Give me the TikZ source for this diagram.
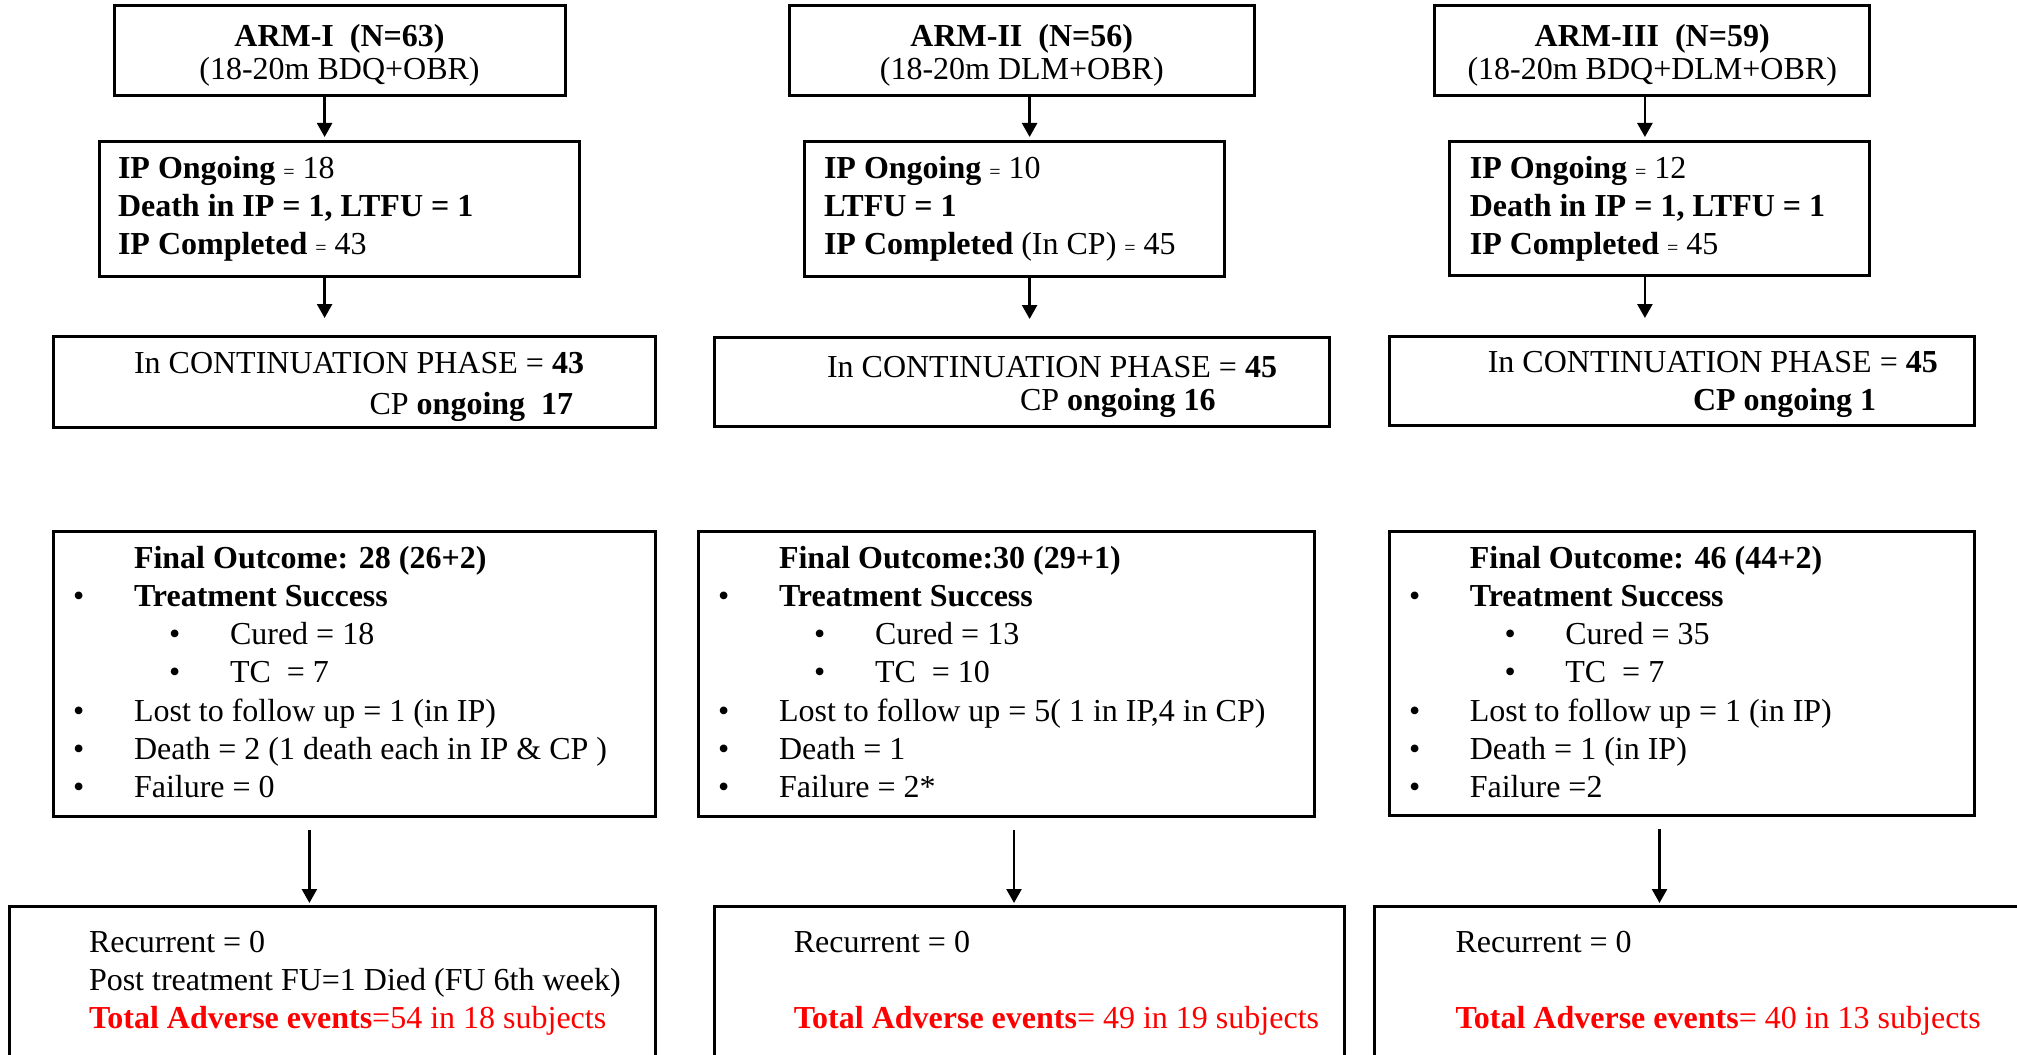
\documentclass[tikz,border=0pt]{standalone}
\usepackage{fontspec}
\setmainfont{Liberation Serif}
\usetikzlibrary{arrows.meta}
\definecolor{aered}{RGB}{255,0,0}
\newcommand\eqsm{{\fontsize{20}{20}\selectfont =}}
\begin{document}
\begin{tikzpicture}[x=1pt,y=-1pt,
  box/.style={draw=black, line width=3pt, inner sep=0pt, outer sep=0pt, rectangle},
  arr/.style={draw=black, line width=2.5pt, -{Triangle[length=14pt,width=15pt]}},
  txt/.style={anchor=base west, inner sep=0pt, outer sep=0pt, font=\fontsize{32}{38}\selectfont},
  ctr/.style={anchor=base, inner sep=0pt, outer sep=0pt, font=\fontsize{32}{38}\selectfont}]
\useasboundingbox (0,0) rectangle (2017,1054);
\clip (0,0) rectangle (2017,1054);
\fill[white] (0,0) rectangle (2017,1054);

% ---------- row 1
\node[box, minimum width=451pt, minimum height=90pt] (A1) at (339.5,51) {};
\node[box, minimum width=465.5pt, minimum height=90pt] (A2) at (1021.75,51) {};
\node[box, minimum width=435.2pt, minimum height=90pt] (A3) at (1652.2,51) {};
\node[ctr] (a1l1) at (339.5,46.5) {\bfseries ARM-I\ \ (N=63)};
\node[ctr] (a1l2) at (339.5,80) {(18-20m BDQ+OBR)};
\node[ctr] (a2l1) at (1021.75,46.5) {\bfseries ARM-II\ \ (N=56)};
\node[ctr] (a2l2) at (1021.75,80) {(18-20m DLM+OBR)};
\node[ctr] (a3l1) at (1652.2,46.5) {\bfseries ARM-III\ \ (N=59)};
\node[ctr] (a3l2) at (1652.2,80) {(18-20m BDQ+DLM+OBR)};

% ---------- row 2
\node[box, minimum width=480.5pt, minimum height=135pt] (B1) at (339.25,208.5) {};
\node[box, minimum width=420.6pt, minimum height=135pt] (B2) at (1014.3,208.5) {};
\node[box, minimum width=420.8pt, minimum height=134pt] (B3) at (1659.4,208) {};
\node[txt] (b1l1) at (118,178) {\textbf{IP Ongoing} \eqsm{} 18};
\node[txt] (b1l2) at (118,216) {\textbf{Death in IP = 1, LTFU = 1}};
\node[txt] (b1l3) at (118,254) {\textbf{IP Completed} \eqsm{} 43};
\node[txt] (b2l1) at (824,178) {\textbf{IP Ongoing} \eqsm{} 10};
\node[txt] (b2l2) at (824,216) {\textbf{LTFU = 1}};
\node[txt] (b2l3) at (824,254) {\textbf{IP Completed} (In CP) \eqsm{} 45};
\node[txt] (b3l1) at (1469.8,178) {\textbf{IP Ongoing} \eqsm{} 12};
\node[txt] (b3l2) at (1469.8,216) {\textbf{Death in IP = 1, LTFU = 1}};
\node[txt] (b3l3) at (1469.8,254) {\textbf{IP Completed} \eqsm{} 45};

% ---------- row 3
\node[box, minimum width=601.4pt, minimum height=91pt] (C1) at (354.3,381.5) {};
\node[box, minimum width=615.6pt, minimum height=89pt] (C2) at (1021.8,381.5) {};
\node[box, minimum width=585.6pt, minimum height=89pt] (C3) at (1681.8,380.5) {};
\node[txt] (c1l1) at (134,373) {In CONTINUATION PHASE = \textbf{43}};
\node[txt] (c1l2) at (369.6,414) {CP \textbf{ongoing\ \ 17}};
\node[txt] (c2l1) at (827,377) {In CONTINUATION PHASE = \textbf{45}};
\node[txt] (c2l2) at (1020,410) {CP \textbf{ongoing 16}};
\node[txt] (c3l1) at (1487.8,372) {In CONTINUATION PHASE = \textbf{45}};
\node[txt] (c3l2) at (1693,410) {\textbf{CP ongoing 1}};

% ---------- row 4
\node[box, minimum width=601.4pt, minimum height=285pt] (D1) at (354.3,673.5) {};
\node[box, minimum width=616pt, minimum height=285pt] (D2) at (1006.8,673.5) {};
\node[box, minimum width=585.6pt, minimum height=284pt] (D3) at (1681.8,673) {};

% arm I
\node[txt] (d1l1) at (134,568) {\textbf{Final Outcome: 28 (26+2)}};
\node[txt] (d1l2) at (134,606.3) {\textbf{Treatment Success}};
\node[txt] (d1l3) at (230,644.6) {Cured = 18};
\node[txt] (d1l4) at (230,682.9) {TC\ \ = 7};
\node[txt] (d1l5) at (134,721.2) {Lost to follow up = 1 (in IP)};
\node[txt] (d1l6) at (134,759.5) {Death = 2 (1 death each in IP \& CP )};
\node[txt] (d1l7) at (134,797.8) {Failure = 0};
\node[txt] (d1b2) at (73,606.3) {•};
\node[txt] (d1b3) at (169,644.6) {•};
\node[txt] (d1b4) at (169,682.9) {•};
\node[txt] (d1b5) at (73,721.2) {•};
\node[txt] (d1b6) at (73,759.5) {•};
\node[txt] (d1b7) at (73,797.8) {•};
% arm II
\node[txt] (d2l1) at (779,568) {\textbf{Final Outcome:30 (29+1)}};
\node[txt] (d2l2) at (779,606.3) {\textbf{Treatment Success}};
\node[txt] (d2l3) at (875,644.6) {Cured = 13};
\node[txt] (d2l4) at (875,682.9) {TC\ \ = 10};
\node[txt] (d2l5) at (779,721.2) {Lost to follow up = 5( 1 in IP,4 in CP)};
\node[txt] (d2l6) at (779,759.5) {Death = 1};
\node[txt] (d2l7) at (779,797.8) {Failure = 2*};
\node[txt] (d2b2) at (718,606.3) {•};
\node[txt] (d2b3) at (814,644.6) {•};
\node[txt] (d2b4) at (814,682.9) {•};
\node[txt] (d2b5) at (718,721.2) {•};
\node[txt] (d2b6) at (718,759.5) {•};
\node[txt] (d2b7) at (718,797.8) {•};
% arm III
\node[txt] (d3l1) at (1469.8,568) {\textbf{Final Outcome: 46 (44+2)}};
\node[txt] (d3l2) at (1469.8,606.3) {\textbf{Treatment Success}};
\node[txt] (d3l3) at (1565.3,644.6) {Cured = 35};
\node[txt] (d3l4) at (1565.3,682.9) {TC\ \ = 7};
\node[txt] (d3l5) at (1469.8,721.2) {Lost to follow up = 1 (in IP)};
\node[txt] (d3l6) at (1469.8,759.5) {Death = 1 (in IP)};
\node[txt] (d3l7) at (1469.8,797.8) {Failure =2};
\node[txt] (d3b2) at (1409,606.3) {•};
\node[txt] (d3b3) at (1504.6,644.6) {•};
\node[txt] (d3b4) at (1504.6,682.9) {•};
\node[txt] (d3b5) at (1409,721.2) {•};
\node[txt] (d3b6) at (1409,759.5) {•};
\node[txt] (d3b7) at (1409,797.8) {•};

% ---------- row 5
\node[box, minimum width=646pt, minimum height=244pt] (E1) at (332,1028) {};
\node[box, minimum width=630pt, minimum height=244pt] (E2) at (1029,1028) {};
\node[box, minimum width=725.3pt, minimum height=244pt] (E3) at (1737.35,1028) {};
\node[txt] (e1l1) at (89,952) {Recurrent = 0};
\node[txt] (e1l2) at (89,990) {Post treatment FU=1 Died (FU 6th week)};
\node[txt, text=aered] (e1l3) at (89,1028) {\textbf{Total Adverse events}=54 in 18 subjects};
\node[txt] (e2l1) at (793.8,952) {Recurrent = 0};
\node[txt, text=aered] (e2l3) at (793.8,1028) {\textbf{Total Adverse events}= 49 in 19 subjects};
\node[txt] (e3l1) at (1455.5,952) {Recurrent = 0};
\node[txt, text=aered] (e3l3) at (1455.5,1028) {\textbf{Total Adverse events}= 40 in 13 subjects};

% ---------- connectors
\coordinate (k1) at (324.6,0);
\coordinate (k2) at (1029.6,0);
\coordinate (k3) at (1644.9,0);
\coordinate (m1) at (309.4,0);
\coordinate (m2) at (1014,0);
\coordinate (m3) at (1659.5,0);
\draw[arr, shorten >=4pt] (A1.south -| k1) -- (B1.north -| k1);
\draw[arr, shorten >=4pt] (A2.south -| k2) -- (B2.north -| k2);
\draw[arr, shorten >=4pt] (A3.south -| k3) -- (B3.north -| k3);
\draw[arr, shorten >=18pt] (B1.south -| k1) -- (C1.north -| k1);
\draw[arr, shorten >=18pt] (B2.south -| k2) -- (C2.north -| k2);
\draw[arr, shorten >=18pt] (B3.south -| k3) -- (C3.north -| k3);
\draw[arr, shorten <=14pt, shorten >=3pt] (D1.south -| m1) -- (E1.north -| m1);
\draw[arr, shorten <=14pt, shorten >=3pt] (D2.south -| m2) -- (E2.north -| m2);
\draw[arr, shorten <=14pt, shorten >=3pt] (D3.south -| m3) -- (E3.north -| m3);
\end{tikzpicture}
\end{document}
